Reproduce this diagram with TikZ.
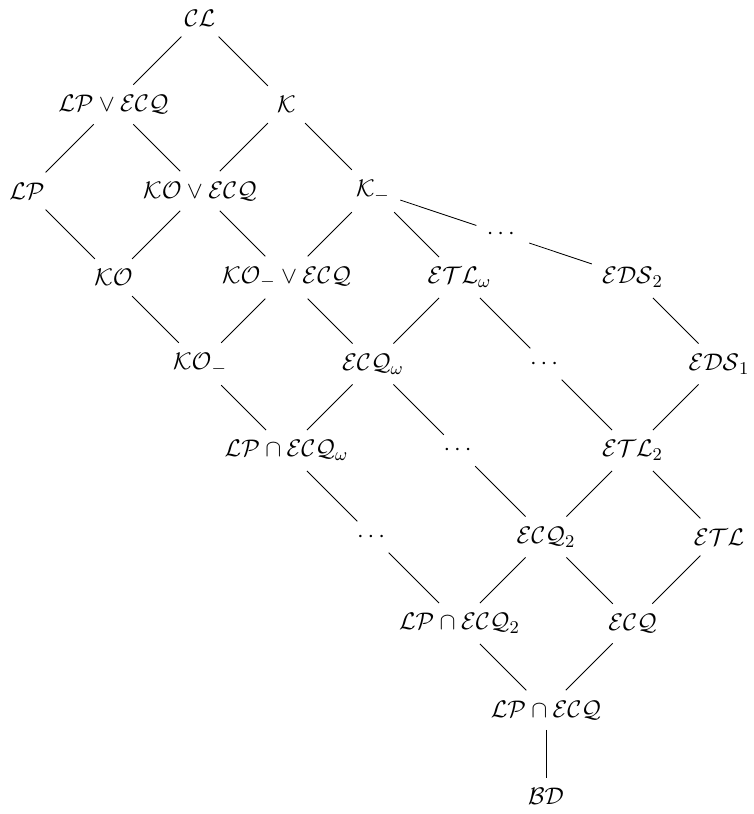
\documentclass[tikz,border=0pt]{standalone}
\usepackage{amsmath,amssymb}
\usetikzlibrary{positioning}

\begin{document}
\begin{tikzpicture}[x=1.52cm,y=1.52cm]
		\tikzstyle{logic}=[inner sep=5pt,font=\fontsize{12.6}{15}\selectfont]
		\tikzstyle{order}=[thin]
		
		\useasboundingbox (-0.312,-0.202) rectangle (8.393,9.208);
		
		% top part
		\node[logic] (CL) at (2,9) {$\mathcal{CL}$};
		\node[logic] (LPvECQ) at (1,8) {$\mathcal{LP}\vee\mathcal{ECQ}$};
		\node[logic] (K) at (3,8) {$\mathcal{K}$};
		\node[logic] (LP) at (0,7) {$\mathcal{LP}$};
		\node[logic] (KOvECQ) at (2,7) {$\mathcal{KO}\vee\mathcal{ECQ}$};
		\node[logic] (Km) at (4,7) {$\mathcal{K}_-$};
		\node[logic] (dotsA) at (5.5,6.5) {$\cdots$};
		\node[logic] (KO) at (1,6) {$\mathcal{KO}$};
		\node[logic] (KOmvECQ) at (3,6) {$\mathcal{KO}_-\vee\mathcal{ECQ}$};
		\node[logic] (ETLw) at (5,6) {$\mathcal{ETL}_\omega$};
		\node[logic] (EDSb) at (7,6) {$\mathcal{EDS}_2$};
		
		% middle part
		\node[logic] (KOm) at (2,5) {$\mathcal{KO}_-$};
		\node[logic] (ECQw) at (4,5) {$\mathcal{ECQ}_\omega$};
		\node[logic] (dotsB) at (6,5) {$\cdots$};
		\node[logic] (EDSa) at (8,5) {$\mathcal{EDS}_1$};
		\node[logic] (LPnECQw) at (3,4) {$\mathcal{LP}\cap\mathcal{ECQ}_\omega$};
		\node[logic] (dotsC) at (5,4) {$\cdots$};
		\node[logic] (ETLb) at (7,4) {$\mathcal{ETL}_2$};
		\node[logic] (dotsD) at (4,3) {$\cdots$};
		\node[logic] (ECQb) at (6,3) {$\mathcal{ECQ}_2$};
		\node[logic] (ETL) at (8,3) {$\mathcal{ETL}$};
		
		% bottom part
		\node[logic] (LPnECQb) at (5,2) {$\mathcal{LP}\cap\mathcal{ECQ}_2$};
		\node[logic] (ECQ) at (7,2) {$\mathcal{ECQ}$};
		\node[logic] (LPnECQ) at (6,1) {$\mathcal{LP}\cap\mathcal{ECQ}$};
		\node[logic] (BD) at (6,0) {$\mathcal{BD}$};
		
		\draw [order] (CL) -- (LPvECQ);
		\draw [order] (CL) -- (K);
		\draw [order] (LPvECQ) -- (LP);
		\draw [order] (LPvECQ) -- (KOvECQ);
		\draw [order] (K) -- (KOvECQ);
		\draw [order] (K) -- (Km);
		\draw [order] (LP) -- (KO);
		\draw [order] (KOvECQ) -- (KO);
		\draw [order] (KOvECQ) -- (KOmvECQ);
		\draw [order] (Km) -- (KOmvECQ);
		\draw [order] (Km) -- (ETLw);
		\draw [order] (Km) -- (dotsA);
		\draw [order] (dotsA) -- (EDSb);
		\draw [order] (KO) -- (KOm);
		\draw [order] (KOmvECQ) -- (KOm);
		\draw [order] (KOmvECQ) -- (ECQw);
		\draw [order] (ETLw) -- (ECQw);
		\draw [order] (ETLw) -- (dotsB);
		\draw [order] (EDSb) -- (EDSa);
		\draw [order] (KOm) -- (LPnECQw);
		\draw [order] (ECQw) -- (LPnECQw);
		\draw [order] (ECQw) -- (dotsC);
		\draw [order] (dotsB) -- (ETLb);
		\draw [order] (EDSa) -- (ETLb);
		\draw [order] (LPnECQw) -- (dotsD);
		\draw [order] (dotsC) -- (ECQb);
		\draw [order] (ETLb) -- (ECQb);
		\draw [order] (ETLb) -- (ETL);
		\draw [order] (dotsD) -- (LPnECQb);
		\draw [order] (ECQb) -- (LPnECQb);
		\draw [order] (ECQb) -- (ECQ);
		\draw [order] (ETL) -- (ECQ);
		\draw [order] (LPnECQb) -- (LPnECQ);
		\draw [order] (ECQ) -- (LPnECQ);
		\draw [order] (LPnECQ) -- (BD);
\end{tikzpicture}
\end{document}
